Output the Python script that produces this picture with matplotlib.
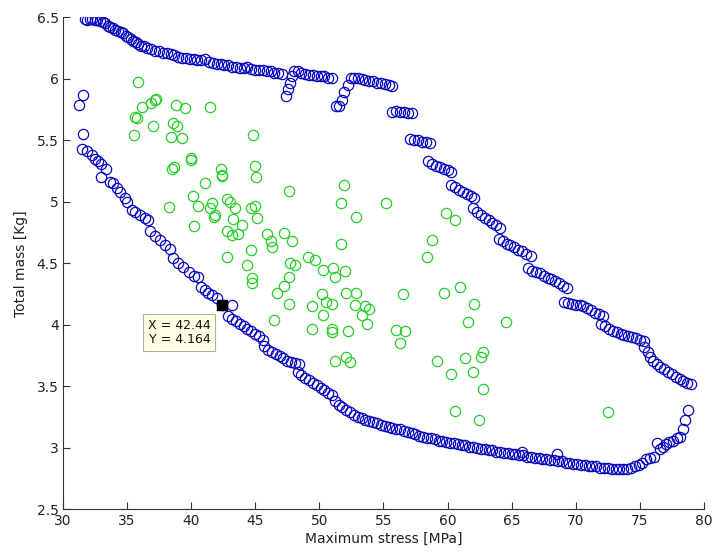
import matplotlib
matplotlib.use("Agg")
import matplotlib.pyplot as plt

# blue boundary, upper branch (left to right)
upper_x = [31.7, 31.9, 32.1, 32.3, 32.5, 32.7, 32.9, 33.1, 33.3, 33.5, 33.7, 33.9, 34.1, 34.3, 34.5,
           34.7, 34.9, 35.1, 35.3, 35.5, 35.7, 35.9, 36.1, 36.3, 36.6, 36.9, 37.2, 37.5, 37.8, 38.1,
           38.4, 38.7, 39.0, 39.3, 39.6, 39.9, 40.2, 40.5, 40.8, 41.1, 41.4, 41.7, 42.0, 42.3, 42.6,
           42.9, 43.2, 43.5, 43.8, 44.1, 44.4, 44.7, 45.0, 45.3, 45.6, 45.9, 46.2, 46.5, 46.8, 47.1,
           47.4, 47.55, 47.7, 47.85,
           48.0, 48.3, 48.6, 48.9, 49.2, 49.5, 49.8, 50.1, 50.4, 50.7, 51.0,
           51.3, 51.55, 51.75, 51.95, 52.2,
           52.45, 52.7, 53.0, 53.3, 53.6, 53.9, 54.2, 54.5, 54.8, 55.1, 55.4, 55.7,
           55.7, 56.0, 56.3, 56.6, 56.9, 57.2,
           57.1, 57.4, 57.7, 58.0, 58.3, 58.6,
           58.5, 58.8, 59.1, 59.4, 59.7, 60.0, 60.3,
           60.3, 60.6, 60.9, 61.2, 61.5, 61.8, 62.1,
           62.0, 62.3, 62.6, 62.9, 63.2, 63.5, 63.8, 64.1,
           64.0, 64.3, 64.6, 64.9, 65.2, 65.5, 65.8, 66.1, 66.5,
           66.3, 66.6, 66.9, 67.2, 67.5, 67.8, 68.1, 68.4, 68.7, 69.0, 69.3,
           69.1, 69.4, 69.7, 70.0, 70.3, 70.6, 70.9, 71.2, 71.5, 71.8, 72.1,
           72.0, 72.3, 72.6, 72.9, 73.2, 73.5, 73.8, 74.1, 74.4, 74.7, 75.0, 75.3,
           75.3, 75.6, 75.8, 76.0, 76.3, 76.6, 76.9, 77.2, 77.5, 77.8, 78.1, 78.4, 78.7, 79.0]
upper_y = [6.49, 6.48, 6.49, 6.49, 6.48, 6.48, 6.47, 6.46, 6.45, 6.43, 6.42, 6.41, 6.40, 6.39, 6.38,
           6.37, 6.35, 6.34, 6.32, 6.31, 6.30, 6.28, 6.27, 6.27, 6.25, 6.24, 6.23, 6.23, 6.21, 6.21,
           6.20, 6.19, 6.18, 6.17, 6.17, 6.16, 6.16, 6.15, 6.15, 6.16, 6.14, 6.13, 6.12, 6.12, 6.11,
           6.11, 6.10, 6.10, 6.09, 6.09, 6.10, 6.08, 6.07, 6.07, 6.07, 6.06, 6.06, 6.05, 6.05, 6.04,
           5.86, 5.92, 5.97, 6.02,
           6.06, 6.06, 6.05, 6.04, 6.03, 6.03, 6.02, 6.02, 6.02, 6.01, 6.01,
           5.78, 5.78, 5.83, 5.89, 5.95,
           6.01, 6.01, 6.01, 6.00, 5.99, 5.98, 5.98, 5.97, 5.97, 5.96, 5.95, 5.94,
           5.73, 5.74, 5.73, 5.73, 5.72, 5.72,
           5.51, 5.50, 5.50, 5.49, 5.49, 5.48,
           5.33, 5.31, 5.29, 5.28, 5.27, 5.26, 5.24,
           5.14, 5.12, 5.10, 5.08, 5.06, 5.05, 5.03,
           4.95, 4.92, 4.89, 4.87, 4.85, 4.83, 4.81, 4.79,
           4.70, 4.68, 4.66, 4.65, 4.63, 4.61, 4.60, 4.58, 4.56,
           4.46, 4.44, 4.43, 4.42, 4.40, 4.38, 4.37, 4.36, 4.34, 4.32, 4.30,
           4.19, 4.18, 4.17, 4.16, 4.16, 4.15, 4.14, 4.12, 4.10, 4.09, 4.07,
           4.01, 3.99, 3.97, 3.95, 3.94, 3.93, 3.92, 3.91, 3.90, 3.89, 3.88, 3.87,
           3.82, 3.78, 3.74, 3.71, 3.68, 3.66, 3.64, 3.62, 3.60, 3.58, 3.56, 3.54, 3.53, 3.52]

# blue boundary, lower branch (left to right, then up the right end)
lower_x = [31.25, 31.6, 31.55,
           31.46, 31.85, 32.24, 32.5, 32.75, 33.0,
           33.0, 33.4, 33.67, 33.9, 34.2, 34.45,
           34.84, 35.0, 35.36, 35.6, 36.0, 36.4, 36.65,
           36.8, 37.2, 37.57, 37.96, 38.35,
           38.6, 39.0, 39.4, 39.8, 40.2, 40.55,
           40.8, 41.08, 41.3, 41.6, 42.0, 42.44, 43.16,
           42.9, 43.2, 43.5, 43.8, 44.1, 44.4, 44.7, 45.0, 45.3, 45.6,
           45.7, 46.0, 46.3, 46.6, 46.9, 47.2, 47.5, 47.8, 48.1, 48.4,
           48.3, 48.6, 48.9, 49.2, 49.5, 49.8, 50.1, 50.4, 50.7, 51.0,
           51.2, 51.5, 51.8, 52.1, 52.4, 52.7, 53.0, 53.3, 53.6, 53.9, 54.2, 54.5, 54.8, 55.1,
           55.4, 55.7, 56.0, 56.3, 56.6, 56.9, 57.2, 57.5, 57.8, 58.1, 58.4, 58.7, 59.0, 59.3,
           59.6, 59.9, 60.2, 60.5, 60.8, 61.1, 61.4, 61.7, 62.0, 62.3, 62.6, 62.9, 63.2, 63.5,
           63.8, 64.1, 64.4, 64.7, 65.0, 65.3, 65.6, 65.8, 65.9, 66.2, 66.5, 66.8, 67.1, 67.4,
           67.7, 68.0, 68.3, 68.5, 68.6, 68.9, 69.2, 69.5, 69.8, 70.1, 70.4, 70.7, 71.0, 71.3,
           71.6, 71.9, 72.2, 72.5, 72.8, 73.1, 73.4, 73.7, 74.0, 74.3, 74.6, 74.9, 75.2,
           75.5, 75.8, 76.1, 76.3, 76.6, 76.8, 77.0, 77.3, 77.6, 77.9, 78.1, 78.35, 78.55, 78.75]
lower_y = [5.79, 5.87, 5.55,
           5.43, 5.41, 5.38, 5.35, 5.33, 5.31,
           5.20, 5.27, 5.16, 5.15, 5.11, 5.08,
           5.03, 5.00, 4.93, 4.92, 4.89, 4.87, 4.85,
           4.76, 4.72, 4.69, 4.65, 4.62,
           4.54, 4.50, 4.47, 4.43, 4.40, 4.39,
           4.31, 4.28, 4.26, 4.24, 4.22, 4.164, 4.16,
           4.07, 4.05, 4.03, 4.01, 3.99, 3.97, 3.95, 3.93, 3.91, 3.88,
           3.83, 3.80, 3.78, 3.76, 3.75, 3.73, 3.71, 3.70, 3.69, 3.68,
           3.62, 3.59, 3.57, 3.55, 3.53, 3.51, 3.49, 3.47, 3.45, 3.43,
           3.38, 3.35, 3.33, 3.31, 3.29, 3.27, 3.25, 3.24, 3.23, 3.22, 3.21, 3.20, 3.19, 3.18,
           3.17, 3.16, 3.15, 3.15, 3.14, 3.13, 3.12, 3.11, 3.10, 3.09, 3.08, 3.08, 3.07, 3.06,
           3.06, 3.05, 3.04, 3.04, 3.03, 3.02, 3.02, 3.01, 3.01, 3.00, 2.99, 2.99, 2.98, 2.98,
           2.97, 2.97, 2.96, 2.96, 2.95, 2.95, 2.94, 2.97, 2.94, 2.93, 2.93, 2.92, 2.92, 2.91,
           2.91, 2.90, 2.90, 2.95, 2.89, 2.89, 2.88, 2.88, 2.87, 2.87, 2.86, 2.86, 2.85, 2.85,
           2.85, 2.84, 2.84, 2.84, 2.83, 2.83, 2.83, 2.83, 2.83, 2.84, 2.85, 2.86, 2.88,
           2.91, 2.92, 2.93, 3.04, 2.99, 3.01, 3.03, 3.05, 3.06, 3.08, 3.09, 3.15, 3.23, 3.31]

# green interior points
green_x = [35.87, 36.14, 35.6, 35.75, 37.04, 37.3, 37.2, 36.9, 35.54, 38.8, 39.5, 41.5, 38.6, 38.87,
           38.4, 39.3, 44.85, 40.0, 39.96, 38.5, 38.7, 42.3, 42.4, 42.38, 44.98, 45.1, 41.1, 47.6,
           51.9, 51.66, 55.2, 52.9, 40.17, 40.55, 38.3, 41.6, 41.47, 41.86, 41.78, 42.77, 43.0, 43.4,
           44.7, 44.98, 45.16, 43.3, 44.0, 40.24, 42.77, 43.16, 43.67, 45.94, 46.2, 46.3, 47.24, 47.9,
           51.7, 44.66, 42.8, 44.4, 47.7, 48.1, 49.1, 49.66, 50.3, 51.1, 51.2, 52.0, 47.6, 44.76,
           44.77, 46.7, 47.24, 47.6, 46.5, 49.4, 50.2, 50.56, 50.96, 50.3, 49.4, 51.0, 50.96, 52.2,
           52.1, 52.9, 52.8, 53.6, 53.9, 53.3, 53.7, 51.2, 52.1, 52.4,
           56.5, 59.7, 60.97, 62.1, 61.6, 64.55, 56.0, 56.7, 56.3, 59.2, 61.36, 62.74, 62.6, 60.26,
           61.96, 62.74, 60.58, 62.45, 72.5, 59.9, 60.6, 58.8, 58.4]
green_y = [5.976, 5.77, 5.69, 5.68, 5.62, 5.84, 5.83, 5.80, 5.54, 5.79, 5.76, 5.77, 5.64, 5.62,
           5.53, 5.52, 5.54, 5.34, 5.36, 5.27, 5.28, 5.27, 5.22, 5.21, 5.29, 5.20, 5.15, 5.09,
           5.14, 4.99, 4.99, 4.88, 5.05, 4.97, 4.96, 4.99, 4.95, 4.89, 4.88, 5.02, 5.00, 4.95,
           4.95, 4.97, 4.87, 4.86, 4.81, 4.80, 4.76, 4.73, 4.74, 4.74, 4.68, 4.63, 4.75, 4.68,
           4.66, 4.61, 4.55, 4.49, 4.50, 4.49, 4.55, 4.53, 4.45, 4.46, 4.39, 4.44, 4.39, 4.38,
           4.34, 4.26, 4.32, 4.17, 4.04, 4.15, 4.25, 4.19, 4.17, 4.08, 3.97, 3.97, 3.94, 3.95,
           4.26, 4.26, 4.16, 4.15, 4.13, 4.08, 4.01, 3.71, 3.74, 3.70,
           4.25, 4.26, 4.31, 4.17, 4.02, 4.02, 3.96, 3.95, 3.85, 3.71, 3.73, 3.78, 3.74, 3.60,
           3.62, 3.48, 3.30, 3.23, 3.29, 4.91, 4.85, 4.69, 4.55]

tip_x = 42.44
tip_y = 4.164

fig = plt.figure(figsize=(7.14, 5.58), dpi=100)
ax = fig.add_axes([0.088, 0.087, 0.898, 0.882])

ms = 7.4
blue = '#0808c0'
green = '#26d026'
ax.plot(upper_x, upper_y, 'o', ms=ms, mfc='none', mec=blue, mew=0.9, ls='none')
ax.plot(lower_x, lower_y, 'o', ms=ms, mfc='none', mec=blue, mew=0.9, ls='none')
ax.plot(green_x, green_y, 'o', ms=ms, mfc='none', mec=green, mew=0.9, ls='none')

# data tip
ax.plot([tip_x], [tip_y], 's', ms=7, color='black')
ax.annotate('X = %.2f\nY = %.3f' % (tip_x, tip_y), xy=(tip_x, tip_y),
            xytext=(-12, -14), textcoords='offset pixels', ha='right', va='top',
            fontsize=9, linespacing=1.15, color='#111111',
            bbox=dict(boxstyle='square,pad=0.35', fc='#ffffe6', ec='#b0b0a0', lw=0.8))

ax.set_xlim(30, 80)
ax.set_ylim(2.5, 6.5)
ax.set_xticks(range(30, 81, 5))
ax.set_yticks([2.5, 3, 3.5, 4, 4.5, 5, 5.5, 6, 6.5])
ax.set_yticklabels(['2.5', '3', '3.5', '4', '4.5', '5', '5.5', '6', '6.5'])
ax.spines['top'].set_visible(False)
ax.spines['right'].set_visible(False)
for s in ['left', 'bottom']:
    ax.spines[s].set_color('#333333')
ax.tick_params(direction='in', length=5, width=0.8, colors='#333333',
               labelsize=10, labelcolor='#222222', pad=3)
ax.set_xlabel('Maximum stress [MPa]', fontsize=10, color='#222222', labelpad=3)
ax.set_ylabel('Total mass [Kg]', fontsize=10, color='#222222', labelpad=6)

fig.savefig('out.png', dpi=100)
